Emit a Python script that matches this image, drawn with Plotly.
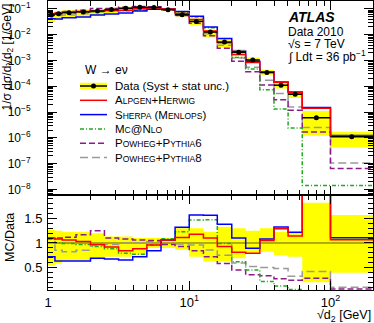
import numpy as np
import plotly.graph_objects as go

# ---------------- data ----------------
bin_edges = [1.0, 1.12, 1.26, 1.58, 2.0, 2.51, 3.16, 3.98, 5.01, 6.31, 7.94,
             10.0, 12.6, 15.8, 20.0, 25.1, 31.6, 39.8, 50.1, 63.1, 100.0, 200.0]

data_vals = [0.058, 0.065, 0.072, 0.077, 0.084, 0.095, 0.107, 0.117, 0.115, 0.094,
             0.060, 0.033, 0.0127, 5.2e-3, 2.1e-3, 1.05e-3, 3.4e-4, 1.1e-4, 4.9e-5,
             6.0e-6, 1.1e-6]
# total uncertainty band, as fraction of data (upper / lower edge)
band_hi = [1.27, 1.25, 1.23, 1.23, 1.20, 1.13, 1.13, 1.10, 1.10, 1.10, 1.30,
           1.30, 1.23, 1.33, 1.30, 1.25, 1.30, 1.23, 1.23, 1.82, 1.57]
band_lo = [0.54, 0.58, 0.65, 0.65, 0.69, 0.72, 0.72, 0.76, 0.90, 0.90, 0.86,
           0.72, 0.62, 0.62, 0.69, 0.80, 0.82, 0.75, 0.72, 0.20, 0.39]

alpgen_herwig = [0.0638, 0.0702, 0.0763, 0.0793, 0.0815, 0.0874, 0.0899, 0.103, 0.110,
                 0.0996, 0.0666, 0.0389, 0.0140, 4.84e-3, 1.70e-3, 8.30e-4, 3.57e-4,
                 1.42e-4, 5.59e-5, 1.41e-5, 1.17e-6]
sherpa = [0.0418, 0.0410, 0.0454, 0.0485, 0.0580, 0.0637, 0.0696, 0.0842, 0.0966,
          0.0996, 0.0792, 0.0518, 0.0199, 7.18e-3, 2.31e-3, 9.35e-4, 3.67e-4,
          1.46e-4, 5.98e-5, 1.50e-5, 1.22e-6]
mcatnlo = [0.0626, 0.0650, 0.0713, 0.0747, 0.0781, 0.0836, 0.0845, 0.0901, 0.110,
           0.102, 0.0738, 0.0485, 0.0187, 5.15e-3, 1.30e-3, 4.73e-4, 7.3e-5,
           1.32e-5, 2.4e-6, 1.4e-8, 1.4e-8]
powheg_py6 = [0.0638, 0.0715, 0.0806, 0.0901, 0.105, 0.1045, 0.1156, 0.124, 0.121,
              0.0912, 0.0558, 0.0277, 9.14e-3, 3.02e-3, 9.45e-4, 3.68e-4, 1.12e-4,
              2.97e-5, 1.18e-5, 1.68e-6, 6.5e-8]
powheg_py8 = [0.0626, 0.0553, 0.0590, 0.0655, 0.0798, 0.0922, 0.107, 0.117, 0.118,
              0.0996, 0.0588, 0.0317, 0.0109, 3.9e-3, 1.24e-3, 5.46e-4, 1.70e-4,
              5.28e-5, 1.57e-5, 2.52e-6, 1.05e-7]

x_tickvals = [1, 10, 100]
x_ticktext = ["1", "10<sup>1</sup>", "10<sup>2</sup>"]
y_tickvals = [1e-8, 1e-7, 1e-6, 1e-5, 1e-4, 1e-3, 1e-2, 1e-1]
y_ticktext = ["10<sup>\u22128</sup>", "10<sup>\u22127</sup>", "10<sup>\u22126</sup>",
              "10<sup>\u22125</sup>", "10<sup>\u22124</sup>", "10<sup>\u22123</sup>",
              "10<sup>\u22122</sup>", "10<sup>\u22121</sup>"]
r_tickvals = [0.5, 1.0, 1.5]
r_ticktext = ["0.5", "1", "1.5"]

# ---------------- helpers ----------------
FONT = "Liberation Sans, Arial, sans-serif"
edges = np.array(bin_edges)
lo, hi = edges[:-1], edges[1:]
centers = np.sqrt(lo * hi)
data = np.array(data_vals)


def steps(vals):
    v = list(vals)
    return list(edges), v + [v[-1]]


def boxes(bottom, top):
    xs, ys = [], []
    for a, b, y0, y1 in zip(lo, hi, bottom, top):
        xs += [a, b, b, a, a, None]
        ys += [y0, y0, y1, y1, y0, None]
    return xs, ys


def smallcaps(s, small=8.5):
    out, buf = "", ""
    for ch in s:
        if ch.islower():
            buf += ch.upper()
        else:
            if buf:
                out += f"<span style='font-size:{small}px'>{buf}</span>"
                buf = ""
            out += ch
    if buf:
        out += f"<span style='font-size:{small}px'>{buf}</span>"
    return out


fig = go.Figure()

# ---- main panel ----
bx, by = boxes(data * np.array(band_lo), data * np.array(band_hi))
fig.add_trace(go.Scatter(x=bx, y=by, fill="toself", fillcolor="#ffff00",
                         line=dict(width=0), mode="lines", xaxis="x2", yaxis="y",
                         hoverinfo="skip"))

series = [
    (powheg_py8, "#9a9a9a", "8px,4px", 1.5),
    (powheg_py6, "#8b1a8b", "6px,3px", 1.5),
    (mcatnlo, "#22aa22", "4px,2px,1px,2px", 1.5),
    (sherpa, "#0000ff", "solid", 1.5),
    (alpgen_herwig, "#ff0000", "solid", 1.5),
]
for vals, col, dash, w in series:
    sx, sy = steps(vals)
    fig.add_trace(go.Scatter(x=sx, y=sy, mode="lines", line_shape="hv",
                             line=dict(color=col, dash=dash, width=w),
                             xaxis="x2", yaxis="y"))

fig.add_trace(go.Scatter(
    x=centers, y=data, mode="markers", xaxis="x2", yaxis="y",
    marker=dict(color="black", size=5),
    error_x=dict(type="data", symmetric=False, array=hi - centers,
                 arrayminus=centers - lo, width=0, thickness=1.5, color="black")))

# ---- ratio panel ----
rbx, rby = boxes(band_lo, band_hi)
fig.add_trace(go.Scatter(x=rbx, y=rby, fill="toself", fillcolor="#ffff00",
                         line=dict(width=0), mode="lines", xaxis="x", yaxis="y2",
                         hoverinfo="skip"))
sx, sy = steps(data / data)
fig.add_trace(go.Scatter(x=sx, y=sy, mode="lines", line_shape="hv",
                         line=dict(color="rgb(95,95,30)", width=1),
                         xaxis="x", yaxis="y2"))
for vals, col, dash, w in series:
    sx, sy = steps(np.array(vals) / data)
    fig.add_trace(go.Scatter(x=sx, y=sy, mode="lines", line_shape="hv",
                             line=dict(color=col, dash=dash, width=w),
                             xaxis="x", yaxis="y2"))

# ---------------- layout ----------------
W, H = 374, 323
ml, mr, mt, mb = 48, 1, 1, 33
pw, ph = W - ml - mr, H - mt - mb
split = (mt + ph - 195) / ph


def px(xp):
    return (xp - ml) / pw


def py(yp):
    return (mt + ph - yp) / ph


minor_x = [k * 10 ** e for e in range(0, 3) for k in range(2, 10) if k * 10 ** e < 200]
minor_y = [k * 10 ** e for e in range(-9, 0) for k in range(2, 10)]
minor_r = [v / 10 for v in range(1, 20) if v % 5 != 0]

axis_common = dict(showline=True, linecolor="black", linewidth=1, mirror="allticks",
                   ticks="inside", tickcolor="black", showgrid=False, zeroline=False,
                   automargin=False,
                   tickfont=dict(family=FONT, size=13, color="black"))

fig.update_layout(
    width=W, height=H, margin=dict(l=ml, r=mr, t=mt, b=mb, autoexpand=False),
    paper_bgcolor="white", plot_bgcolor="white", showlegend=False,
    xaxis=dict(type="log", range=[0, np.log10(200)], domain=[0, 1], anchor="y2",
               tickmode="array", tickvals=x_tickvals, ticktext=x_ticktext, ticklen=9,
               minor=dict(tickmode="array", tickvals=minor_x, ticks="inside", ticklen=5,
                          tickcolor="black"),
               **axis_common),
    xaxis2=dict(type="log", range=[0, np.log10(200)], domain=[0, 1], anchor="y",
                matches="x", tickmode="array", tickvals=x_tickvals, ticklen=9,
                showticklabels=False,
                minor=dict(tickmode="array", tickvals=minor_x, ticks="inside", ticklen=5,
                           tickcolor="black"),
                **axis_common),
    yaxis=dict(type="log", range=[-8.22, -0.69], domain=[split, 1], anchor="x2",
               tickmode="array", tickvals=y_tickvals, ticktext=y_ticktext, ticklen=9,
               ticklabelstandoff=14,
               minor=dict(tickmode="array", tickvals=minor_y, ticks="inside", ticklen=5,
                          tickcolor="black"),
               **{**axis_common, "tickfont": dict(family=FONT, size=12, color="black")}),
    yaxis2=dict(range=[0.04, 1.98], domain=[0, split], anchor="x",
                tickmode="array", tickvals=r_tickvals, ticktext=r_ticktext, ticklen=9,
                ticklabelstandoff=2,
                minor=dict(tickmode="array", tickvals=minor_r, ticks="inside", ticklen=5,
                           tickcolor="black"),
                **axis_common),
)

ann = []


def text(x, y, s, size=12, xanchor="left", yanchor="middle", angle=0, **kw):
    ann.append(dict(x=x, y=y, xref="paper", yref="paper", text=s, showarrow=False,
                    xanchor=xanchor, yanchor=yanchor, textangle=angle,
                    font=dict(family=FONT, size=size, color="black", **kw)))


# ATLAS label
text(px(286), py(16.5), "<b><i>ATLAS</i></b>", size=14)
text(px(286), py(32), "Data 2010", size=12)
text(px(286), py(44), "\u221as = 7 TeV", size=12)
text(px(286), py(56.5), "\u222b Ldt = 36 pb<sup>\u22121</sup>", size=12)

# axis titles
text(px(7), py(2), "1/\u03c3 d\u03c3/d\u221ad<sub>2</sub> [1/GeV]", size=12,
     xanchor="center", yanchor="top", angle=-90)
text(px(10), py(238), "MC/Data", size=12.5, xanchor="center", yanchor="middle", angle=-90)
text(1.0, py(316), "\u221ad<sub>2</sub> [GeV]", size=12.5, xanchor="right")

# legend
text(px(83), py(70), "W \u2192 e\u03bd", size=12)
leg_rows = [86, 100.3, 114.6, 128.9, 143.2, 157.5]
labels = ["Data (Syst + stat unc.)", smallcaps("Alpgen+Herwig"),
          smallcaps("Sherpa (Menlops)"), smallcaps("Mc@Nlo"),
          smallcaps("Powheg+Pythia6"), smallcaps("Powheg+Pythia8")]
for yy, lab in zip(leg_rows, labels):
    text(px(113), py(yy), lab, size=11.5)

shapes = []
x0, x1 = px(80), px(107)
yd = leg_rows[0]
shapes.append(dict(type="rect", xref="paper", yref="paper", x0=x0, x1=x1,
                   y0=py(yd + 3.2), y1=py(yd - 3.2), fillcolor="#ffff00", line=dict(width=0)))
shapes.append(dict(type="line", xref="paper", yref="paper", x0=x0, x1=x1,
                   y0=py(yd), y1=py(yd), line=dict(color="black", width=1.5)))
shapes.append(dict(type="circle", xref="paper", yref="paper", x0=px(91), x1=px(96),
                   y0=py(yd + 2.5), y1=py(yd - 2.5), fillcolor="black",
                   line=dict(color="black", width=0)))
leg_styles = [("#ff0000", "solid"), ("#0000ff", "solid"), ("#22aa22", "4px,2px,1px,2px"),
              ("#8b1a8b", "6px,3px"), ("#9a9a9a", "8px,4px")]
for yy, (col, dash) in zip(leg_rows[1:], leg_styles):
    shapes.append(dict(type="line", xref="paper", yref="paper", x0=x0, x1=x1,
                       y0=py(yy), y1=py(yy), line=dict(color=col, dash=dash, width=1.5)))

fig.update_layout(annotations=ann, shapes=shapes)
fig.write_html("out.html", config={"displayModeBar": False, "staticPlot": True},
               post_script="document.body.style.margin='0';"
                           "document.body.style.overflow='hidden';")
